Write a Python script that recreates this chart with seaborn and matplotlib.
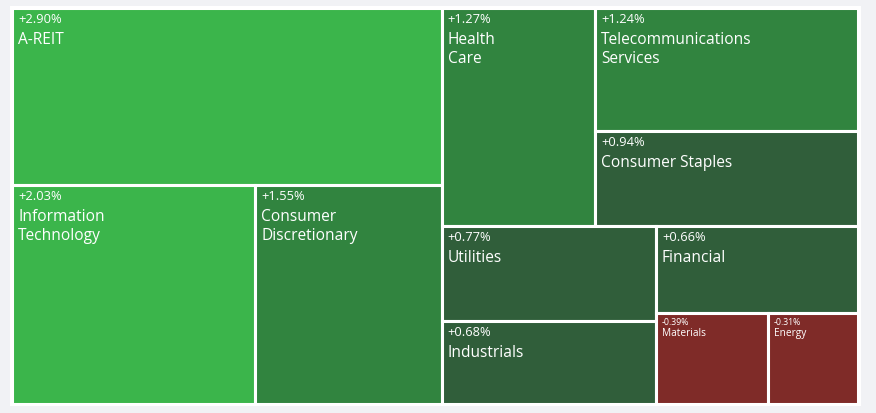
import numpy as np
import pandas as pd
import matplotlib.pyplot as plt
import seaborn as sns
from matplotlib.patches import Rectangle

# sector data (tile size ~ weight; change in %)
sectors = ["A-REIT", "Information\nTechnology", "Consumer\nDiscretionary", "Health\nCare",
           "Telecommunications\nServices", "Consumer Staples", "Utilities", "Industrials",
           "Financial", "Materials", "Energy"]
weights = [76100, 53300, 40800, 33600, 32300, 25100, 20300, 17800, 17500, 10200, 8200]
changes = [2.90, 2.03, 1.55, 1.27, 1.24, 0.94, 0.77, 0.68, 0.66, -0.39, -0.31]

df = pd.DataFrame({"sector": sectors, "weight": weights, "change": changes})

sns.set_theme(style="white")
plt.rcParams['font.family'] = ['Open Sans', 'DejaVu Sans']

# colour buckets by change
pal = sns.color_palette(["#7f2b28", "#305e3a", "#31843f", "#3bb54b"])
def tile_color(c):
    if c < 0:
        return pal[0]
    if c < 1:
        return pal[1]
    if c < 2:
        return pal[2]
    return pal[3]

# binary treemap, split direction alternates with depth
def partition(idx, x0, y0, x1, y1, depth, out):
    if len(idx) == 1:
        out[idx[0]] = (x0, y0, x1, y1)
        return
    vals = df.loc[idx, "weight"].to_numpy(dtype=float)
    total = vals.sum()
    sums = np.concatenate([[0], np.cumsum(vals)])
    target = total / 2
    k = int(np.searchsorted(sums, target))
    k = min(max(k, 1), len(idx) - 1)
    if (target - sums[k - 1]) < (sums[k] - target) and k > 1:
        k -= 1
    left = sums[k] / total
    if depth % 2 == 0:
        xk = x0 + (x1 - x0) * left
        partition(idx[:k], x0, y0, xk, y1, depth + 1, out)
        partition(idx[k:], xk, y0, x1, y1, depth + 1, out)
    else:
        yk = y0 + (y1 - y0) * left
        partition(idx[:k], x0, y0, x1, yk, depth + 1, out)
        partition(idx[k:], x0, yk, x1, y1, depth + 1, out)

W, H = 876, 413
fig = plt.figure(figsize=(W / 100, H / 100), dpi=100)
fig.patch.set_facecolor("#f1f2f5")
ax = fig.add_axes([0, 0, 1, 1])
ax.set_xlim(0, W)
ax.set_ylim(H, 0)
ax.axis("off")

# white plot frame
ax.add_patch(Rectangle((10, 6), 851, 400, facecolor="white", edgecolor="none"))

rects = {}
partition(list(range(len(df))), 12, 8, 858, 404, 0, rects)

for i, row in df.iterrows():
    x0, y0, x1, y1 = rects[i]
    ax.add_patch(Rectangle((x0, y0), x1 - x0, y1 - y0, facecolor=tile_color(row.change),
                           edgecolor="white", linewidth=2.2))
    small = (x1 - x0) < 130
    pct = f"{row.change:+.2f}%"
    if small:
        ax.text(x0 + 6, y0 + 5, pct, color="white", fontsize=6.3, va="top", ha="left")
        ax.text(x0 + 6, y0 + 15, row.sector, color="white", fontsize=7.3, va="top", ha="left")
    else:
        ax.text(x0 + 6, y0 + 5, pct, color="white", fontsize=9.3, va="top", ha="left")
        ax.text(x0 + 6, y0 + 24, row.sector, color="white", fontsize=11.2, va="top", ha="left",
                linespacing=1.25)

fig.savefig("out.png", dpi=100, facecolor=fig.get_facecolor())
